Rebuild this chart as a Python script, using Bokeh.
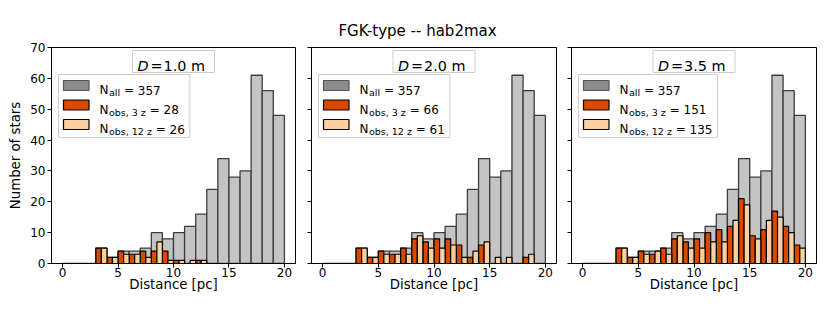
from bokeh.plotting import figure
from bokeh.layouts import column, row
from bokeh.models import Range1d, Label, BoxAnnotation, FixedTicker, ColumnDataSource
from bokeh.embed import file_html
from bokeh.resources import INLINE

# ---------------- data ----------------
bin_edges = list(range(0, 21))          # distance bins [pc]
n_all = [0, 0, 0, 5, 2, 4, 4, 5, 10, 8, 10, 12, 16, 24, 34, 28, 30, 61, 56, 48]
apertures = ["1.0", "2.0", "3.5"]
n_obs_3z = [
    [0, 0, 0, 5, 2, 4, 3, 4, 4, 4, 1, 0, 1, 0, 0, 0, 0, 0, 0, 0],
    [0, 0, 0, 5, 2, 4, 3, 5, 8, 7, 8, 8, 6, 2, 6, 0, 0, 0, 2, 0],
    [0, 0, 0, 5, 2, 4, 3, 5, 8, 7, 8, 10, 11, 12, 21, 9, 11, 17, 12, 6],
]
n_obs_12z = [
    [0, 0, 0, 5, 2, 3, 3, 2, 7, 1, 1, 1, 1, 0, 0, 0, 0, 0, 0, 0],
    [0, 0, 0, 5, 2, 3, 3, 3, 9, 5, 5, 6, 2, 4, 7, 2, 2, 0, 3, 0],
    [0, 0, 0, 5, 2, 3, 4, 3, 9, 5, 5, 7, 7, 14, 19, 8, 14, 15, 10, 5],
]
xticks = [0, 5, 10, 15, 20]
yticks = [0, 10, 20, 30, 40, 50, 60, 70]
suptitle = "FGK-type -- hab2max"
xlabel = "Distance [pc]"
ylabel = "Number of stars"

# ---------------- style ----------------
FONT = "DejaVu Sans"
C_ALL = "#c4c4c4"
C_ALL_EDGE = "#3c3c3c"
C_ALL_LEG = "#8c8c8c"
C_3Z = "#d94801"
C_12Z = "#fdd0a2"
FS = 12.0      # tick / legend font px
FS_AX = 13.3   # axis-label font px
FS_SUB = 9.5   # subscript font px
FS_T = 14.4    # panel title font px
FS_SUP = 15.0  # suptitle font px

EM = {"N": .748, "a": .613, "l": .278, "o": .612, "b": .635, "s": .521,
      ",": .318, " ": .318, "z": .525, "=": .838, ".": .318, "m": .974}
for d in "0123456789":
    EM[d] = .636


def tw(s, size):
    return sum(EM.get(c, .6) for c in s) * size


FRAME_W = [244, 245, 245]
FRAME_H = 216
TOP, BOTTOM = 5, 40
LEFT = [51, 11, 10]
RIGHT = [5, 5, 6]
TITLE_H = 42


def screen_box(**kw):
    kw.setdefault("line_alpha", 1.0)
    return BoxAnnotation(left_units="screen", right_units="screen",
                         top_units="screen", bottom_units="screen", **kw)


def screen_text(x, y, text, size, **kw):
    return Label(x=x, y=y, x_units="screen", y_units="screen", text=text,
                 text_font=FONT, text_font_size=f"{size}px",
                 text_baseline=kw.pop("text_baseline", "alphabetic"),
                 text_color="black", **kw)


def make_panel(k):
    p = figure(width=LEFT[k] + FRAME_W[k] + RIGHT[k], height=TOP + FRAME_H + BOTTOM,
               x_range=Range1d(-1, 21), y_range=Range1d(0, 70),
               output_backend="svg", toolbar_location=None,
               min_border_left=LEFT[k], min_border_right=RIGHT[k],
               min_border_top=TOP, min_border_bottom=BOTTOM)
    p.grid.visible = False
    p.outline_line_color = "black"
    p.outline_line_alpha = 1.0
    p.background_fill_color = "white"
    p.border_fill_color = "white"

    for ax in (p.xaxis, p.yaxis):
        ax.axis_line_color = "black"
        ax.major_tick_line_color = "black"
        ax.major_tick_in = 0
        ax.major_tick_out = 4
        ax.minor_tick_in = 0
        ax.minor_tick_out = 0
        ax.major_label_text_font = FONT
        ax.major_label_text_font_size = f"{FS}px"
        ax.major_label_text_color = "black"
        ax.axis_label_text_font = FONT
        ax.axis_label_text_font_size = f"{FS_AX}px"
        ax.axis_label_text_font_style = "normal"
        ax.axis_label_text_color = "black"
    p.xaxis.ticker = FixedTicker(ticks=xticks)
    p.yaxis.ticker = FixedTicker(ticks=yticks)
    p.xaxis.axis_label = xlabel
    p.xaxis.major_label_standoff = 0
    p.xaxis.axis_label_standoff = -3
    p.yaxis.major_label_standoff = 2
    if k == 0:
        p.yaxis.axis_label = ylabel
        p.yaxis.axis_label_standoff = 4
    else:
        # shared y axis: tick marks only, labels not drawn
        p.yaxis.major_label_text_font_size = "1px"
        p.yaxis.major_label_text_alpha = 0
        p.yaxis.major_label_text_color = None
        p.yaxis.major_label_standoff = 0

    left = bin_edges[:-1]
    right = bin_edges[1:]
    mid = [(a + b) / 2 for a, b in zip(left, right)]

    src_all = ColumnDataSource(dict(left=left, right=right, top=n_all))
    p.quad(left="left", right="right", bottom=0, top="top", source=src_all,
           fill_color=C_ALL, line_color=C_ALL_EDGE, line_width=1.3)

    o3 = n_obs_3z[k]
    o12 = n_obs_12z[k]
    i3 = [i for i, v in enumerate(o3) if v > 0]
    i12 = [i for i, v in enumerate(o12) if v > 0]
    src3 = ColumnDataSource(dict(left=[left[i] for i in i3], right=[mid[i] for i in i3],
                                 top=[o3[i] for i in i3]))
    src12 = ColumnDataSource(dict(left=[mid[i] for i in i12], right=[right[i] for i in i12],
                                  top=[o12[i] for i in i12]))
    p.quad(left="left", right="right", bottom=0, top="top", source=src3,
           fill_color=C_3Z, line_color="black", line_width=1.2)
    p.quad(left="left", right="right", bottom=0, top="top", source=src12,
           fill_color=C_12Z, line_color="black", line_width=1.2)

    # ---- panel title box: "D = x m" ----
    fw = FRAME_W[k]
    cx = fw / 2.0
    box_w = 82
    p.add_layout(screen_box(left=cx - box_w / 2, right=cx + box_w / 2, bottom=FRAME_H - 25,
                            top=FRAME_H - 3, fill_color="white", fill_alpha=0.8,
                            line_color="#cccccc", line_width=1))
    base_t = FRAME_H - 18
    x0 = cx - 36
    p.add_layout(screen_text(x0, base_t, "D", FS_T, text_font_style="italic"))
    p.add_layout(screen_text(x0 + 13, base_t, "=", FS_T))
    p.add_layout(screen_text(x0 + 26, base_t, f"{apertures[k]} m", FS_T))

    # ---- legend (manual, to get subscripts) ----
    entries = [("all", sum(n_all), C_ALL_LEG, "#555555"),
               ("obs, 3 z", sum(o3), C_3Z, "black"),
               ("obs, 12 z", sum(o12), C_12Z, "black")]
    tx = 48
    widths = []
    for sub, n, _, _ in entries:
        widths.append(tx + tw("N", FS) + 0.5 + tw(sub, FS_SUB) + tw(f" = {n}", FS))
    leg_r = max(widths) + 5
    p.add_layout(screen_box(left=7, right=leg_r, top=FRAME_H - 27, bottom=FRAME_H - 90,
                            fill_color="white", fill_alpha=0.8, line_color="#cccccc",
                            line_width=1))
    for j, (sub, n, fc, lc) in enumerate(entries):
        base = FRAME_H - 42.5 - 19.5 * j
        p.add_layout(screen_box(left=12, right=37.5, bottom=base - 0.5, top=base + 9.5,
                                fill_color=fc, fill_alpha=1, line_color=lc, line_width=1.2))
        p.add_layout(screen_text(tx, base, "N", FS))
        xs = tx + tw("N", FS) + 0.5
        p.add_layout(screen_text(xs, base - 2.5, sub, FS_SUB))
        xe = xs + tw(sub, FS_SUB) + tw(" ", FS)
        p.add_layout(screen_text(xe, base, "=", FS))
        xn = xe + tw("= ", FS)
        p.add_layout(screen_text(xn, base, f"{n}", FS))
    return p


panels = [make_panel(k) for k in range(3)]

TOTAL_W = sum(p.width for p in panels)
tfig = figure(width=TOTAL_W, height=TITLE_H, x_range=Range1d(0, 1), y_range=Range1d(0, 1),
              output_backend="svg", toolbar_location=None,
              min_border_left=0, min_border_right=0, min_border_top=0, min_border_bottom=0)
tfig.xaxis.visible = False
tfig.yaxis.visible = False
tfig.grid.visible = False
tfig.outline_line_color = None
tfig.add_layout(screen_text(417, TITLE_H - 30, suptitle, FS_SUP, text_align="center",
                            text_baseline="middle"))

layout = column(tfig, row(*panels))
open("out.html", "w").write(file_html(layout, INLINE))
